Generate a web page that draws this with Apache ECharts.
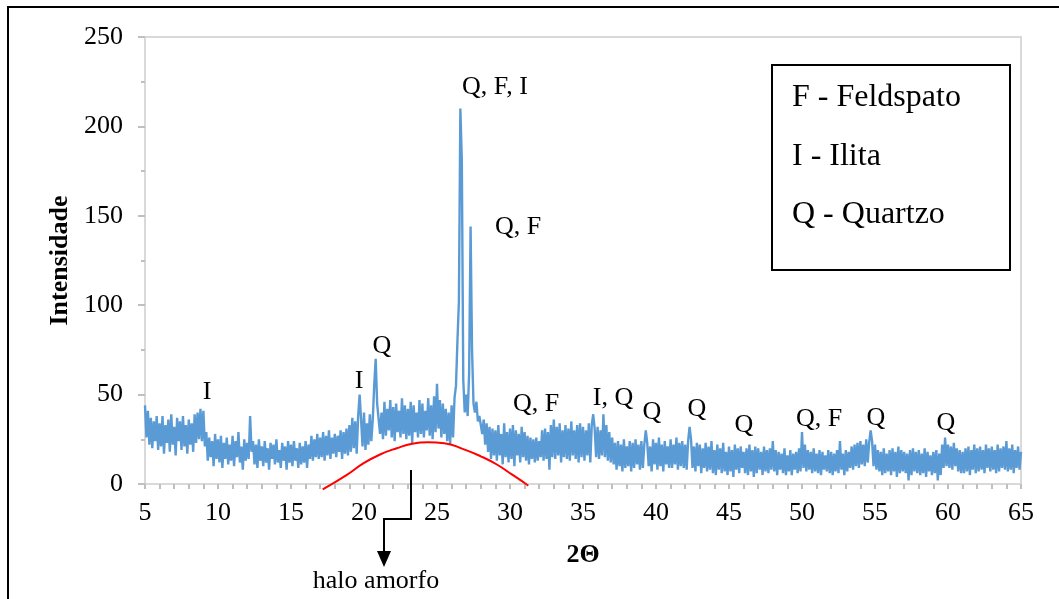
<!DOCTYPE html>
<html>
<head>
<meta charset="utf-8">
<script src="https://cdn.jsdelivr.net/npm/echarts@6/dist/echarts.min.js"></script>
<style>
  html, body { margin: 0; padding: 0; background: #fff; }
  #chart { width: 1059px; height: 599px; }
</style>
</head>
<body>
<div id="chart"></div>
<script>
  // difratograma: 2θ de 5 a 65, passo 0.1
  const angleStart = 5;
  const angleStep = 0.1;
  const intensity = [
    44,26,41,22,37,20,35,24,38,19,
    34,21,38,17,33,23,36,18,39,22,
    32,16,37,24,35,19,38,21,33,17,
    36,22,34,18,39,23,40,25,42,24,
    41,21,29,13,26,15,24,10,28,14,
    25,12,27,9,23,14,26,11,22,13,
    27,10,24,15,29,12,21,8,25,13,
    23,14,38,18,24,11,22,9,25,13,
    21,10,24,12,20,8,23,14,22,11,
    25,12,19,9,23,13,21,8,24,12,
    22,10,24,13,20,9,23,11,21,12,
    24,9,22,14,27,13,25,15,28,14,
    26,15,29,13,27,16,30,14,26,17,
    28,15,27,18,30,14,29,17,31,16,
    33,18,37,20,35,17,38,50,36,21,
    40,19,34,22,39,24,36,55,70,45,
    44,28,40,25,46,27,42,30,47,26,
    43,24,45,29,41,26,48,28,44,25,
    42,27,46,23,44,29,40,26,47,28,
    45,26,41,30,48,27,44,25,49,29,
    56,31,47,26,45,28,42,24,40,22,
    44,26,48,55,80,102,210,181,58,40,
    50,38,62,144,75,45,40,46,35,38,
    33,28,36,22,34,18,32,14,31,16,
    30,13,33,16,28,11,34,15,29,12,
    31,14,33,10,30,16,28,12,32,15,
    29,13,27,11,26,14,25,12,26,13,
    24,15,30,13,31,14,29,8,33,15,
    36,14,32,16,34,12,30,15,33,14,
    31,13,35,16,30,14,33,12,34,15,
    32,13,30,16,34,12,33,39,31,15,
    32,14,30,16,39,15,33,13,29,12,
    26,11,23,8,24,10,22,7,25,9,
    21,10,24,7,23,9,25,11,22,8,
    24,9,22,30,23,10,21,7,25,11,
    23,8,26,10,22,7,24,11,21,9,
    25,9,22,11,26,8,23,10,24,9,
    22,8,24,32,25,9,21,7,23,10,
    22,6,20,9,23,7,21,8,24,6,
    19,5,22,8,20,6,23,7,18,5,
    21,7,19,4,22,8,20,6,21,9,
    18,6,20,5,22,7,19,4,21,6,
    20,8,18,5,21,7,19,6,20,8,
    24,7,19,5,18,8,17,6,20,5,
    16,7,19,5,17,8,18,6,20,7,
    29,9,22,7,19,8,18,6,20,7,
    17,6,19,5,18,8,16,7,19,6,
    18,5,17,7,19,6,24,8,17,5,
    19,7,18,9,21,8,22,10,23,9,
    24,11,22,10,25,12,23,30,24,10,
    22,8,19,7,18,5,20,6,17,7,
    19,5,20,7,18,4,21,6,19,7,
    18,6,17,2,19,5,20,7,18,6,
    19,5,17,6,20,4,18,7,16,5,
    18,6,19,2,17,5,22,9,26,10,
    22,9,21,8,23,10,20,7,19,6,
    18,6,20,7,21,5,19,8,22,6,
    20,7,21,8,19,6,22,9,20,7,
    21,8,19,6,22,7,20,9,21,8,
    24,7,20,8,22,6,19,9,21,8,
    18
  ];

  // halo amorfo (curva vermelha)
  const haloAngle = [17.17, 18.8, 19.95, 21.1, 22.24, 23.3, 24.4, 25.5, 26.8, 28.0, 29.1, 30.1, 31.1, 31.25];
  const haloIntensity = [-3, 5, 11.5, 16.5, 20, 22.5, 23.3, 22.8, 19.5, 15.5, 10.9, 5.5, 0, -1];

  // identificação dos picos
  const peakNames = ['I', 'I', 'Q', 'Q, F, I', 'Q, F', 'Q, F', 'I, Q', 'Q', 'Q', 'Q', 'Q, F', 'Q', 'Q'];
  const peakAngle = [9.25, 19.66, 21.23, 28.97, 30.55, 31.78, 37.05, 39.73, 42.81, 46.03, 51.16, 55.07, 59.86];
  const peakHeight = [51.6, 57.8, 77.3, 222, 143.7, 44.9, 48.3, 40.5, 42.1, 33.2, 36.6, 37.1, 34.3];

  const legendLines = ['F - Feldspato', 'I - Ilita', 'Q - Quartzo'];

  const serif = 'Liberation Serif';
  const axisGray = '#D9D9D9';
  const tickGray = '#BFBFBF';

  const pattern = intensity.map((v, i) => [+(angleStart + i * angleStep).toFixed(1), v]);
  const halo = haloAngle.map((a, i) => [a, haloIntensity[i]]);

  const chart = echarts.init(document.getElementById('chart'));

  const option = {
    animation: false,
    backgroundColor: '#fff',
    grid: {
      left: 145,
      right: 38,
      top: 37,
      bottom: 115,
      show: true,
      borderColor: axisGray,
      borderWidth: 2,
    },
    xAxis: {
      type: 'value',
      min: 5,
      max: 65,
      interval: 5,
      name: '2Θ',
      nameLocation: 'middle',
      nameGap: 58,
      nameTextStyle: { fontFamily: serif, fontSize: 26, fontWeight: 'bold', color: '#000' },
      axisLine: { show: true, lineStyle: { color: axisGray, width: 2 } },
      axisTick: { show: true, length: 5, lineStyle: { color: tickGray, width: 2 } },
      minorTick: { show: true, splitNumber: 5, length: 5, lineStyle: { color: tickGray, width: 2 } },
      splitLine: { show: false },
      axisLabel: { fontFamily: serif, fontSize: 26, color: '#000', margin: 16 },
    },
    yAxis: {
      type: 'value',
      min: 0,
      max: 250,
      interval: 50,
      name: 'Intensidade',
      nameLocation: 'middle',
      nameRotate: 90,
      nameGap: 70,
      nameTextStyle: { fontFamily: serif, fontSize: 26, fontWeight: 'bold', color: '#000' },
      axisLine: { show: true, lineStyle: { color: axisGray, width: 2 } },
      axisTick: { show: true, length: 7, lineStyle: { color: tickGray, width: 2 } },
      minorTick: { show: true, splitNumber: 2, length: 4, lineStyle: { color: tickGray, width: 2 } },
      splitLine: { show: false },
      axisLabel: { fontFamily: serif, fontSize: 26, color: '#000', margin: 22 },
    },
    series: [
      {
        name: 'difratograma',
        type: 'line',
        data: pattern,
        symbol: 'none',
        lineStyle: { color: '#5B9BD5', width: 2.4 },
        z: 2,
      },
      {
        name: 'halo',
        type: 'line',
        data: halo,
        smooth: true,
        symbol: 'none',
        clip: false,
        lineStyle: { color: '#FF0000', width: 2 },
        z: 3,
      },
    ],
  };

  chart.setOption(option);

  // anotações: moldura, rótulos dos picos, caixa de legenda e seta do halo
  const toPx = (a, v) => chart.convertToPixel({ gridIndex: 0 }, [a, v]).map(Math.round);
  const arrowStart = toPx(23.25, 8);
  const arrowBase = toPx(21.4, 0);
  const axisY = arrowBase[1];

  const peakTexts = peakNames.map((n, i) => {
    const p = toPx(peakAngle[i], peakHeight[i]);
    return {
      type: 'text',
      x: p[0],
      y: p[1],
      style: {
        text: n,
        fontFamily: serif,
        fontSize: 26,
        fill: '#000',
        align: 'center',
        verticalAlign: 'middle',
      },
      z: 10,
    };
  });

  chart.setOption({
    graphic: [
      {
        type: 'rect',
        shape: { x: 8, y: 7, width: 1200, height: 800 },
        style: { fill: 'none', stroke: '#000', lineWidth: 2 },
        silent: true,
      },
      ...peakTexts,
      {
        type: 'rect',
        shape: { x: 772, y: 65, width: 238, height: 205 },
        style: { fill: '#fff', stroke: '#000', lineWidth: 2 },
        z: 10,
      },
      ...legendLines.map((t, i) => ({
        type: 'text',
        x: 792,
        y: 98 + i * 58.5,
        style: { text: t, fontFamily: serif, fontSize: 32, fill: '#000', verticalAlign: 'middle' },
        z: 11,
      })),
      {
        type: 'polyline',
        shape: {
          points: [
            [arrowStart[0], arrowStart[1]],
            [arrowStart[0], axisY + 35],
            [arrowBase[0], axisY + 35],
            [arrowBase[0], axisY + 68],
          ],
        },
        style: { stroke: '#000', lineWidth: 2, fill: 'none' },
        z: 10,
      },
      {
        type: 'polygon',
        shape: {
          points: [
            [arrowBase[0] - 7, axisY + 67],
            [arrowBase[0] + 7, axisY + 67],
            [arrowBase[0], axisY + 83],
          ],
        },
        style: { fill: '#000' },
        z: 10,
      },
      {
        type: 'text',
        x: arrowBase[0] - 8,
        y: axisY + 97,
        style: {
          text: 'halo amorfo',
          fontFamily: serif,
          fontSize: 26,
          fill: '#000',
          align: 'center',
          verticalAlign: 'middle',
        },
        z: 10,
      },
    ],
  });
</script>
</body>
</html>
